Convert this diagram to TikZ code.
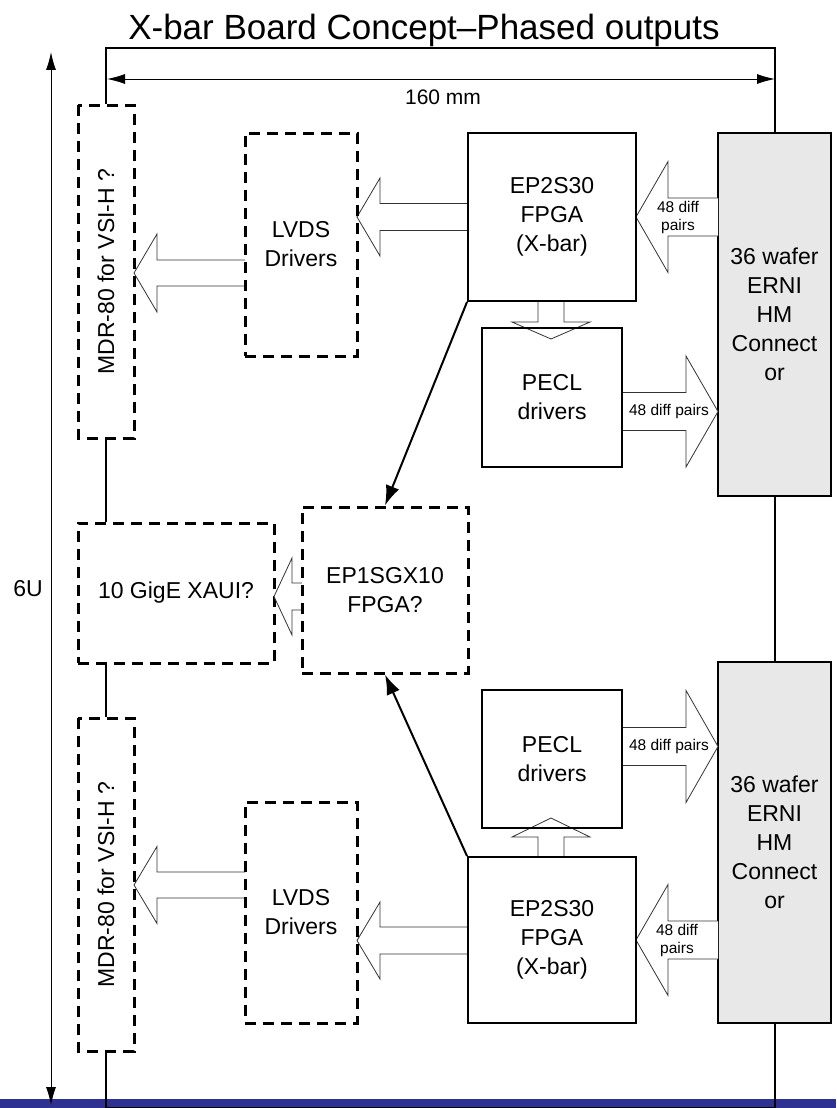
\documentclass[tikz,border=0pt]{standalone}
\usepackage{fontspec}
\setmainfont{Liberation Sans}
\usetikzlibrary{arrows.meta}
\definecolor{barblue}{RGB}{46,49,146}
\definecolor{conngray}{RGB}{232,232,232}
\newcommand{\harrowshape}[6]{\path[blockarrow] (#6,#2-#5) -- (#3,#2-#5) -- (#3,#2-#4) -- (#1,#2) -- (#3,#2+#4) -- (#3,#2+#5) -- (#6,#2+#5);}
\newcommand{\varrowshape}[6]{\path[blockarrow] (#1-#5,#6) -- (#1-#5,#3) -- (#1-#4,#3) -- (#1,#2) -- (#1+#4,#3) -- (#1+#5,#3) -- (#1+#5,#6);}
\begin{document}
\begin{tikzpicture}[x=1pt,y=-1pt,
  txt/.style={font=\fontsize{23}{29}\selectfont, align=center},
  solidbox/.style={draw, line width=2pt, inner sep=0pt, txt},
  dashbox/.style={draw, line width=3pt, dash pattern=on 11pt off 7pt, inner sep=0pt, txt},
  connbox/.style={solidbox, fill=conngray},
  wire/.style={line width=2pt},
  blockarrow/.style={draw=black!80, line width=0.8pt, fill=white},
  dim/.style={line width=1pt},
  small/.style={font=\fontsize{15.5}{18}\selectfont, align=center, inner sep=0pt},
  ptr/.style={line width=2pt, -{Latex[length=20pt,width=14pt]}},
]
\useasboundingbox (0,0) rectangle (836,1108);
\fill[white] (0,0) rectangle (836,1108);
\fill[barblue] (0,1099) rectangle (836,1108);

% title and dimensions
\node[font=\fontsize{35}{40}\selectfont, anchor=base, inner sep=0pt] (title) at (424,40) {X-bar Board Concept\textendash Phased outputs};
\coordinate (dimL) at (107,79);
\coordinate (dimR) at (775,79);
\coordinate (vtop) at (51,52);
\coordinate (vbot) at (51,1105);
\draw[dim, {Latex[length=18pt,width=10pt]}-{Latex[length=18pt,width=10pt]}] (dimL) -- (dimR);
\node[font=\fontsize{21}{25}\selectfont, anchor=base, inner sep=0pt] (mm) at (443,104) {160 mm};
\draw[dim, {Latex[length=18pt,width=10pt]}-{Latex[length=18pt,width=10pt]}] (vtop) -- (vbot);
\node[txt, inner sep=0pt] (sixu) at (28,589) {6U};

% box nodes (positions)
\node[dashbox, minimum width=333pt, minimum height=56pt, rotate=90] (mdrA) at (106,271.5) {MDR-80 for VSI-H ?};
\node[dashbox, minimum width=333pt, minimum height=56pt, rotate=90] (mdrB) at (106,884.5) {MDR-80 for VSI-H ?};
\node[dashbox, minimum width=196pt, minimum height=140pt] (xaui) at (176,593) {10 GigE XAUI?};
\node[connbox, minimum width=113pt, minimum height=363pt] (connA) at (774.5,314.5) {36 wafer\\ERNI\\HM\\Connect\\or};
\node[connbox, minimum width=113pt, minimum height=361pt] (connB) at (774.5,842.5) {36 wafer\\ERNI\\HM\\Connect\\or};

% wires
\draw[wire] (mdrA.east) -- ++(0,-55) -| (connA.north);
\draw[wire] (connA.south) -- (connB.north);
\draw[wire] (connB.south) -- ++(0,84) -| (mdrB.west);
\draw[wire] (mdrA.west) -- (xaui.north -| mdrA.west);
\draw[wire] (xaui.south -| mdrB.east) -- (mdrB.east);

% block arrows
\harrowshape{357}{217}{380}{39}{13.5}{468}
\harrowshape{636}{217}{668}{55.5}{19}{718}
\harrowshape{134}{273}{157}{39}{13}{245}
\varrowshape{551}{339}{322}{39}{13}{301}
\harrowshape{718}{411.5}{686}{55.5}{19}{622}
\harrowshape{274}{596.5}{292}{38.5}{13.5}{302}
\harrowshape{718}{746.5}{686}{56}{19}{622}
\varrowshape{551}{818}{837}{39}{13}{857}
\harrowshape{357}{940.5}{380}{38.5}{13.5}{468}
\harrowshape{636}{940}{668}{55.5}{19}{718}
\harrowshape{134}{885}{157}{38.5}{13}{245}

% remaining boxes
\node[dashbox, minimum width=112pt, minimum height=223pt] (lvdsA) at (301,244.5) {LVDS\\Drivers};
\node[dashbox, minimum width=112pt, minimum height=221pt] (lvdsB) at (301,912.5) {LVDS\\Drivers};
\node[solidbox, minimum width=168pt, minimum height=168pt] (fpgaA) at (552,217) {EP2S30\\FPGA\\(X-bar)};
\node[solidbox, minimum width=168pt, minimum height=166pt] (fpgaB) at (552,940) {EP2S30\\FPGA\\(X-bar)};
\node[solidbox, minimum width=140pt, minimum height=139pt] (peclA) at (552,397.5) {PECL\\drivers};
\node[solidbox, minimum width=140pt, minimum height=138pt] (peclB) at (552,759) {PECL\\drivers};
\node[dashbox, minimum width=166pt, minimum height=166pt] (sgx) at (385,590) {EP1SGX10\\FPGA?};

% arrow labels
\node[small] (lblA) at (678,217) {48 diff\\pairs};
\node[small] (lblB) at (669,411.5) {48 diff pairs};
\node[small] (lblC) at (669,746.5) {48 diff pairs};
\node[small] (lblD) at (677,940) {48 diff\\pairs};

% pointers to EP1SGX10
\draw[ptr] (fpgaA.south west) -- (sgx.north);
\draw[ptr] (fpgaB.north west) -- (sgx.south);
\end{tikzpicture}
\end{document}
